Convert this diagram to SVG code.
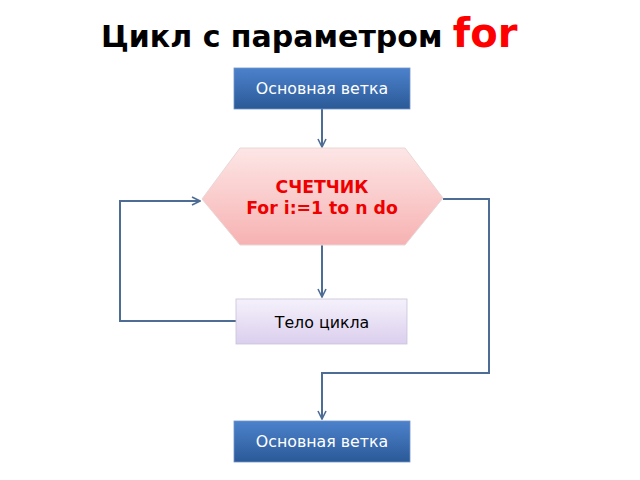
<svg xmlns="http://www.w3.org/2000/svg" width="640" height="480" viewBox="0 0 640 480">
<style>
.conn{fill:none;stroke:#4d6d94;stroke-width:2}
.lbl{font-family:"DejaVu Sans",Verdana,sans-serif;font-size:15.8px;text-anchor:middle}
.hex{font-family:"DejaVu Sans",Verdana,sans-serif;font-size:17.3px;font-weight:bold;fill:#ee0000;text-anchor:middle}
</style>
<defs>
<linearGradient id="blue" x1="0" y1="0" x2="0" y2="1">
<stop offset="0" stop-color="#4c82cc"/>
<stop offset="1" stop-color="#2b5997"/>
</linearGradient>
<linearGradient id="pink" x1="0" y1="0" x2="0" y2="1">
<stop offset="0" stop-color="#fde6e6"/>
<stop offset="1" stop-color="#f7b2b2"/>
</linearGradient>
<linearGradient id="lav" x1="0" y1="0" x2="0" y2="1">
<stop offset="0" stop-color="#f5f1fb"/>
<stop offset="1" stop-color="#dbcfee"/>
</linearGradient>
<marker id="arr" viewBox="0 0 10 10" refX="9" refY="5" markerWidth="5" markerHeight="5" orient="auto" markerUnits="strokeWidth">
<path d="M1,1 L9,5 L1,9" fill="none" stroke="#4d6d94" stroke-width="1.6"/>
</marker>
</defs>
<rect width="640" height="480" fill="#ffffff"/>
<g id="title">
<text x="101" y="47" font-family="DejaVu Sans,Verdana,sans-serif" font-weight="bold" font-size="30" fill="#000">Цикл с параметром <tspan fill="#ff0000" font-size="40">for</tspan></text>
</g>
<g id="connectors">
<path class="conn" d="M322,109 L322,147" marker-end="url(#arr)"/>
<path class="conn" d="M322,245 L322,297" marker-end="url(#arr)"/>
<path class="conn" d="M236,321 L120,321 L120,201 L200,201" marker-end="url(#arr)"/>
<path class="conn" d="M443,199 L489,199 L489,373 L322,373 L322,419" marker-end="url(#arr)"/>
</g>
<g id="start">
<rect x="234" y="68" width="176" height="41" fill="url(#blue)" stroke="#6f95c9" stroke-width="0.8"/>
<text class="lbl" x="322" y="94" fill="#ffffff">Основная ветка</text>
</g>
<g id="counter">
<polygon points="202,199 240,148 405,148 443,198 405,245 240,245" fill="url(#pink)" stroke="#e9d6d6" stroke-width="1"/>
<text class="hex" x="322" y="193">СЧЕТЧИК</text>
<text class="hex" x="322" y="214">For i:=1 to n do</text>
</g>
<g id="body">
<rect x="236" y="299" width="171" height="45" fill="url(#lav)" stroke="#c9c2d6" stroke-width="0.8"/>
<text class="lbl" x="322" y="328" fill="#000000">Тело цикла</text>
</g>
<g id="end">
<rect x="234" y="421" width="176" height="41" fill="url(#blue)" stroke="#6f95c9" stroke-width="0.8"/>
<text class="lbl" x="322" y="447" fill="#ffffff">Основная ветка</text>
</g>
</svg>
